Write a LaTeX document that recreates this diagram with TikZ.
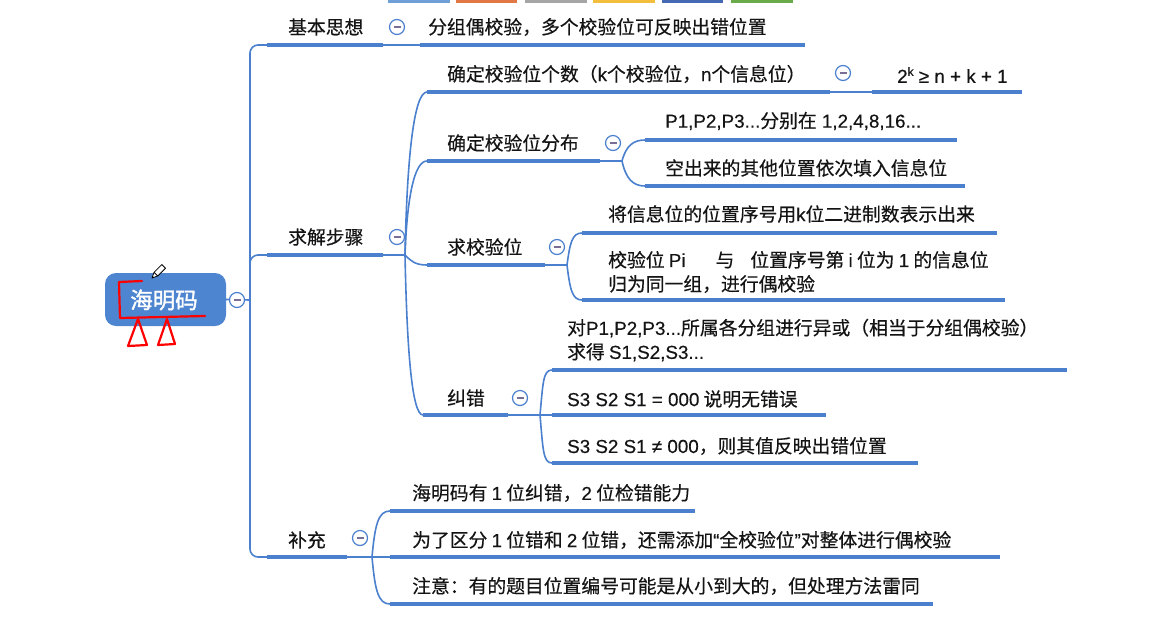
\documentclass[tikz,border=0pt]{standalone}
\usepackage{fontspec}
\setmainfont{Noto Sans CJK SC}[FakeBold=0.35]
\newfontfamily\lat{Liberation Sans}[FakeBold=0.35]
\newfontfamily\rootfont{Noto Sans CJK SC}[FakeBold=1.5]
\usetikzlibrary{calc}
\definecolor{mblue}{RGB}{74,128,206}
\definecolor{rootblue}{RGB}{78,133,208}
\definecolor{foldminus}{RGB}{120,110,150}
\definecolor{txt}{RGB}{20,20,20}
\definecolor{barA}{RGB}{110,160,215}
\definecolor{barB}{RGB}{225,120,70}
\definecolor{barC}{RGB}{165,165,165}
\definecolor{barD}{RGB}{242,190,60}
\definecolor{barE}{RGB}{70,105,180}
\definecolor{barF}{RGB}{105,170,75}
\newcommand\tfs{\fontsize{18.8}{24}\selectfont}
\newcommand\lt[1]{{\lat #1}}
\tikzset{
  link/.style={draw=mblue, line width=1.6pt},
  uline/.style={draw=mblue, line width=4.2pt},
  topic/.style={anchor=west, inner sep=0pt, font=\tfs, text=txt, align=left},
  fold/.style={circle, draw=mblue, line width=1.2pt, fill=white, minimum size=15pt, inner sep=0pt,
    path picture={\draw[foldminus, line width=1.3pt]
      ([xshift=-3.5pt]path picture bounding box.center) -- ([xshift=3.5pt]path picture bounding box.center);}},
  redmark/.style={draw=red, line width=2.2pt, line join=round, line cap=round},
}
\begin{document}
\begin{tikzpicture}[x=1pt,y=1pt]
\useasboundingbox (0,0) rectangle (1159,-619);
\fill[white] (0,0) rectangle (1159,-619);
% top colour bars
\fill[barA] (388,0) rectangle (450,-3);
\fill[barB] (456,0) rectangle (517,-3);
\fill[barC] (525,0) rectangle (587,-3);
\fill[barD] (593,0) rectangle (655,-3);
\fill[barE] (662,0) rectangle (723,-3);
\fill[barF] (731,0) rectangle (793,-3);

% ---------- coordinates ----------
\coordinate (trunk) at (250,-300);
\coordinate (u1a) at (267,-45);  \coordinate (u1b) at (383,-45);
\coordinate (u2a) at (267,-255); \coordinate (u2b) at (383,-255);
\coordinate (u3a) at (267,-557); \coordinate (u3b) at (347,-557);
\coordinate (a1a) at (420,-45);  \coordinate (a1b) at (805,-45);
\coordinate (b2) at (405,-255);
\coordinate (s1a) at (427,-92);  \coordinate (s1b) at (830,-92);
\coordinate (e1a) at (872,-92);  \coordinate (e1b) at (1022,-92);
\coordinate (s2a) at (427,-161); \coordinate (s2b) at (600,-161);
\coordinate (bs2) at (622,-161);
\coordinate (p1a) at (645,-140); \coordinate (p1b) at (957,-140);
\coordinate (p2a) at (645,-186); \coordinate (p2b) at (965,-186);
\coordinate (s3a) at (427,-265); \coordinate (s3b) at (545,-265);
\coordinate (bs3) at (567,-265);
\coordinate (q1a) at (582,-233); \coordinate (q1b) at (997,-233);
\coordinate (q2a) at (582,-300); \coordinate (q2b) at (1005,-300);
\coordinate (s4a) at (423,-415); \coordinate (s4b) at (508,-415);
\coordinate (bs4) at (540,-415);
\coordinate (r1a) at (552,-370); \coordinate (r1b) at (1067,-370);
\coordinate (r2a) at (552,-415); \coordinate (r2b) at (826,-415);
\coordinate (r3a) at (552,-463); \coordinate (r3b) at (918,-463);
\coordinate (b3) at (372,-557);
\coordinate (t1a) at (390,-511); \coordinate (t1b) at (695,-511);
\coordinate (t2a) at (390,-557); \coordinate (t2b) at (1000,-557);
\coordinate (t3a) at (390,-604); \coordinate (t3b) at (933,-604);

% ---------- root ----------
\node[fill=rootblue, rounded corners=11pt, minimum width=121pt, minimum height=53pt, inner sep=0pt]
  (root) at (165.5,-299.5) {};
\node[text=white, font=\rootfont\fontsize{22.5}{22.5}\selectfont, inner sep=0pt] (roottxt) at (164,-300) {海明码};

% ---------- trunk ----------
\draw[link] (root.east) -- (trunk);
\draw[link, rounded corners=8] (u1a) -| (trunk) |- (u3a);
\draw[link, rounded corners=8] ($(trunk)+(0,40)$) |- (u2a);

% ---------- underlines ----------
\foreach \a/\b in {u1a/u1b,u2a/u2b,u3a/u3b,a1a/a1b,s1a/s1b,e1a/e1b,s2a/s2b,p1a/p1b,p2a/p2b,
                   s3a/s3b,q1a/q1b,q2a/q2b,s4a/s4b,r1a/r1b,r2a/r2b,r3a/r3b,t1a/t1b,t2a/t2b,t3a/t3b}
  \draw[uline] (\a) -- (\b);

% ---------- connectors ----------
\draw[link] (u1b) -- (a1a);
\draw[link] (u2b) -- (b2);
\draw[link] (b2) .. controls +(2,98) and +(-13,0) .. (s1a);
\draw[link] (b2) .. controls +(2,56) and +(-13,0) .. (s2a);
\draw[link] (b2) .. controls +(6,-6) and +(-12,0) .. (s3a);
\draw[link] (b2) .. controls +(2,-96) and +(-11,0) .. (s4a);
\draw[link] (s1b) -- (e1a);
\draw[link] (s2b) -- (bs2);
\draw[link] (bs2) .. controls +(4,15) and +(-12,0) .. (p1a);
\draw[link] (bs2) .. controls +(4,-18) and +(-12,0) .. (p2a);
\draw[link] (s3b) -- (bs3);
\draw[link] (bs3) .. controls +(3,22) and +(-10,0) .. (q1a);
\draw[link] (bs3) .. controls +(3,-24) and +(-10,0) .. (q2a);
\draw[link] (s4b) -- (bs4);
\draw[link] (bs4) .. controls +(3,32) and +(-9,0) .. (r1a);
\draw[link] (bs4) -- (r2a);
\draw[link] (bs4) .. controls +(3,-34) and +(-9,0) .. (r3a);
\draw[link] (u3b) -- (b3);
\draw[link] (b3) .. controls +(3,32) and +(-12,0) .. (t1a);
\draw[link] (b3) -- (t2a);
\draw[link] (b3) .. controls +(3,-33) and +(-12,0) .. (t3a);

% ---------- fold buttons ----------
\node[fold] (f0) at (237,-300) {};
\node[fold] (f1) at (397,-27) {};
\node[fold] (f2) at (397,-237) {};
\node[fold] (f3) at (360,-538) {};
\node[fold] (f4) at (843,-73) {};
\node[fold] (f5) at (613,-143) {};
\node[fold] (f6) at (557,-247) {};
\node[fold] (f7) at (520,-398) {};

% ---------- texts ----------
\node[topic] (n1) at (288,-27) {基本思想};
\node[topic] (n2) at (288,-237) {求解步骤};
\node[topic] (n3) at (288,-540) {补充};
\node[topic] (a1) at (428,-27) {分组偶校验，多个校验位可反映出错位置};
\node[topic] (s1) at (447,-74) {确定校验位个数（\lt{k}个校验位，\lt{n}个信息位）};
\node[topic] (e1) at (897,-75) {\lt{2\raisebox{7pt}{\fontsize{12}{12}\selectfont k} ≥ n + k + 1}};
\node[topic] (s2) at (447,-143) {确定校验位分布};
\node[topic] (p1) at (665,-121) {\lt{P1,P2,P3...}分别在\lt{ 1,2,4,8,16...}};
\node[topic] (p2) at (665,-168) {空出来的其他位置依次填入信息位};
\node[topic] (s3) at (447,-247) {求校验位};
\node[topic] (q1) at (608,-214) {将信息位的位置序号用\lt{k}位二进制数表示出来};
\node[topic] (q2) at (608,-272) {校验位 \lt{Pi}\hspace{30pt}与\hspace{16pt}位置序号第 \lt{i} 位为 \lt{1} 的信息位\\归为同一组，进行偶校验};
\node[topic] (s4) at (447,-398) {纠错};
\node[topic] (r1) at (567,-340) {对\lt{P1,P2,P3...}所属各分组进行异或（相当于分组偶校验）\\求得 \lt{S1,S2,S3...}};
\node[topic] (r2) at (567,-399) {\lt{S3 S2 S1 = 000} 说明无错误};
\node[topic] (r3) at (567,-446) {\lt{S3 S2 S1 ≠ 000}，则其值反映出错位置};
\node[topic] (t1) at (412,-493) {海明码有 \lt{1} 位纠错，\lt{2} 位检错能力};
\node[topic] (t2) at (412,-540) {为了区分 \lt{1} 位错和 \lt{2} 位错，还需添加\lt{“}全校验位\lt{”}对整体进行偶校验};
\node[topic] (t3) at (412,-586) {注意：有的题目位置编号可能是从小到大的，但处理方法雷同};

% ---------- pencil cursor ----------
\begin{scope}[shift={(158,-272)}, rotate=45]
  \draw[black, line width=0.8pt, fill=white, line join=round]
    (-3,-2.6) -- (8,-2.6) -- (8,2.6) -- (-3,2.6) -- (-8.5,0) -- cycle;
  \draw[black, line width=0.8pt] (-3,-2.6) -- (-3,2.6);
  \fill[black] (-8.5,0) -- (-6.6,0.9) -- (-6.6,-0.9) -- cycle;
\end{scope}

% ---------- red hand marks ----------
\draw[redmark] (142,-281) -- (119,-282) -- (120,-318) -- (205,-316);
\draw[redmark] (138,-319) -- (128,-346) -- (147,-345) -- cycle;
\draw[redmark] (167,-319) -- (158,-345) -- (175,-344) -- cycle;
\end{tikzpicture}
\end{document}
